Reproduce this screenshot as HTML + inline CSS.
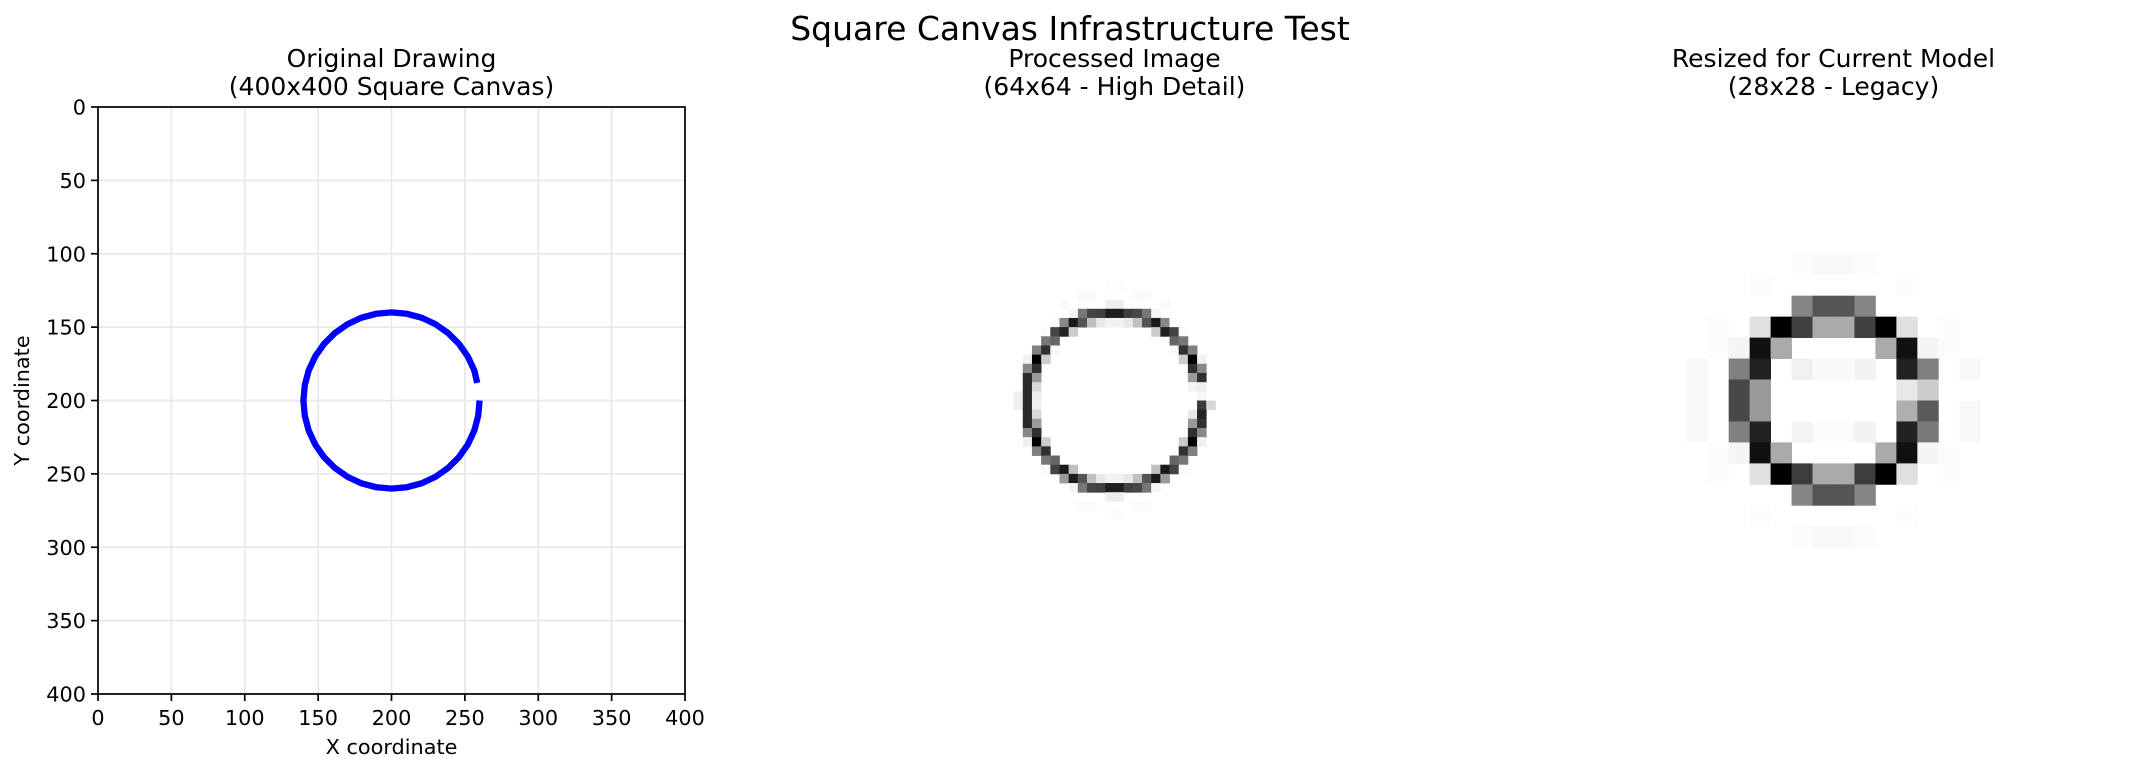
<!DOCTYPE html>
<html><head><meta charset="utf-8">
<style>
html,body{margin:0;padding:0;background:#fff;}
svg{display:block;font-family:"DejaVu Sans","Liberation Sans",sans-serif;}
</style></head>
<body>
<svg id="fig" width="2142" height="772" viewBox="0 0 2142 772" xmlns="http://www.w3.org/2000/svg">
<rect x="0" y="0" width="2142" height="772" fill="#fff"/>
<text x="1070" y="40" font-size="33" text-anchor="middle" fill="#000">Square Canvas Infrastructure Test</text>
<g font-size="25" text-anchor="middle" fill="#000">
<text x="391.5" y="67">Original Drawing</text>
<text x="391.5" y="95">(400x400 Square Canvas)</text>
</g>
<g font-size="25" text-anchor="middle" fill="#000">
<text x="1114.5" y="67">Processed Image</text>
<text x="1114.5" y="95">(64x64 - High Detail)</text>
</g>
<g font-size="25" text-anchor="middle" fill="#000">
<text x="1833.5" y="67">Resized for Current Model</text>
<text x="1833.5" y="95">(28x28 - Legacy)</text>
</g>
<g id="p1"></g>
<g id="p2"></g>
<g id="p3"></g>
</svg>
<script>
// ---- data ----
const xTicks = [0,50,100,150,200,250,300,350,400];
const yTicks = [0,50,100,150,200,250,300,350,400];
const strokeX = [260,259.1,256.4,252,246,238.6,230,220.5,210.4,200,189.6,179.5,170,161.4,154,148,143.6,140.9,140,140.9,143.6,148,154,161.4,170,179.5,189.6,200,210.4,220.5,230,238.6,246,252,256.4,258.4];
const strokeY = [200,210.4,220.5,230,238.6,246,252,256.4,259.1,260,259.1,256.4,252,246,238.6,230,220.5,210.4,200,189.6,179.5,170,161.4,154,148,143.6,140.9,140,140.9,143.6,148,154,161.4,170,179.5,188];
// 64x64 processed image non-white cells: [row, col, gray]
const img64 = [
[19,31,252],[19,32,252],[20,28,250],[20,29,250],[20,34,250],[20,35,250],
[21,26,250],[21,31,238],[21,32,238],[21,37,250],
[22,27,245],[22,28,119],[22,29,68],[22,30,64],[22,31,30],[22,32,30],[22,33,64],[22,34,72],[22,35,119],[22,36,245],
[23,25,252],[23,26,136],[23,27,26],[23,28,85],[23,29,192],[23,30,232],[23,31,242],[23,32,242],[23,33,232],[23,34,192],[23,35,85],[23,36,26],[23,37,136],[23,38,252],
[24,24,251],[24,25,68],[24,26,34],[24,27,204],[24,36,204],[24,37,34],[24,38,68],[24,39,251],
[25,24,119],[25,25,102],[25,38,102],[25,39,119],
[26,23,128],[26,24,48],[26,25,248],[26,38,248],[26,39,48],[26,40,128],
[27,22,240],[27,23,0],[27,24,204],[27,39,204],[27,40,0],[27,41,240],
[28,22,136],[28,23,48],[28,40,48],[28,41,136],
[29,22,42],[29,23,154],[29,40,154],[29,41,48],
[30,22,42],[30,23,216],[30,40,245],[30,41,238],
[31,21,238],[31,22,42],[31,23,238],[31,41,248],
[32,21,238],[32,22,42],[32,23,240],[32,41,58],[32,42,216],
[33,22,42],[33,23,216],[33,40,232],[33,41,34],
[34,22,42],[34,23,154],[34,40,154],[34,41,48],
[35,22,136],[35,23,48],[35,40,48],[35,41,136],
[36,22,240],[36,23,0],[36,24,204],[36,39,204],[36,40,0],[36,41,240],
[37,23,128],[37,24,48],[37,39,48],[37,40,128],
[38,24,119],[38,25,102],[38,38,102],[38,39,119],
[39,24,251],[39,25,68],[39,26,26],[39,27,192],[39,36,192],[39,37,26],[39,38,68],[39,39,251],
[40,26,154],[40,27,30],[40,28,85],[40,29,192],[40,30,232],[40,31,242],[40,32,242],[40,33,232],[40,34,192],[40,35,85],[40,36,26],[40,37,154],
[41,27,245],[41,28,119],[41,29,68],[41,30,64],[41,31,30],[41,32,30],[41,33,64],[41,34,72],[41,35,119],[41,36,245],
[42,31,238],[42,32,238],[43,28,250],[43,29,250],[43,34,250],[43,35,250],[44,31,252],[44,32,252]
];
// 28x28 resized image non-white cells: [row, col, gray]
const img28 = [
[7,12,252],[7,13,248],[7,14,248],[7,15,252],
[8,10,252],[8,17,252],
[9,12,133],[9,13,85],[9,14,85],[9,15,133],
[10,8,252],[10,10,224],[10,11,0],[10,12,64],[10,13,170],[10,14,170],[10,15,64],[10,16,0],[10,17,224],[10,19,252],
[11,8,252],[11,9,245],[11,10,16],[11,11,170],[11,16,170],[11,17,16],[11,18,245],[11,19,252],
[12,7,248],[12,9,128],[12,10,34],[12,12,240],[12,13,250],[12,14,250],[12,15,242],[12,17,34],[12,18,128],[12,20,248],
[13,7,248],[13,9,72],[13,10,154],[13,17,232],[13,18,204],
[14,7,248],[14,9,72],[14,10,154],[14,17,175],[14,18,90],[14,20,248],
[15,7,248],[15,9,128],[15,10,34],[15,12,243],[15,13,252],[15,14,252],[15,15,242],[15,17,34],[15,18,122],[15,20,248],
[16,8,252],[16,9,245],[16,10,16],[16,11,170],[16,16,170],[16,17,16],[16,18,245],[16,19,252],
[17,8,252],[17,10,224],[17,11,0],[17,12,60],[17,13,170],[17,14,170],[17,15,60],[17,16,0],[17,17,224],[17,19,252],
[18,12,133],[18,13,85],[18,14,85],[18,15,133],
[19,10,252],[19,17,252],
[20,12,252],[20,13,248],[20,14,248],[20,15,252]
];
// ---- drawing ----
const NS = "http://www.w3.org/2000/svg";
function mk(tag, attrs, parent){const e=document.createElementNS(NS,tag);for(const k in attrs)e.setAttribute(k,attrs[k]);parent.appendChild(e);return e;}
const AX = {l:98, t:107, w:587, h:587};
const sx = v => AX.l + v/400*AX.w;
const sy = v => AX.t + v/400*AX.h;
const p1 = document.getElementById('p1');
mk('rect',{x:AX.l,y:AX.t,width:AX.w,height:AX.h,fill:'#fff'},p1);
xTicks.forEach(v=>{
  const g = mk('line',{x1:sx(v),x2:sx(v),y1:AX.t,y2:AX.t+AX.h,stroke:'#e8e8e8','stroke-width':1.7},p1);
  
  
});
yTicks.forEach(v=>{
  const g = mk('line',{x1:AX.l,x2:AX.l+AX.w,y1:sy(v),y2:sy(v),stroke:'#e8e8e8','stroke-width':1.7},p1);
  
  
});
const pts = strokeX.map((x,i)=>sx(x).toFixed(1)+','+sy(strokeY[i]).toFixed(1)).join(' ');
const line = mk('polyline',{points:pts,fill:'none',stroke:'#0000ff','stroke-width':6.3,'stroke-linejoin':'miter','stroke-linecap':'butt'},p1);


const frame = mk('rect',{x:AX.l,y:AX.t,width:AX.w,height:AX.h,fill:'none',stroke:'#000','stroke-width':1.7},p1);


xTicks.forEach(v=>{
  mk('line',{x1:sx(v),x2:sx(v),y1:AX.t+AX.h,y2:AX.t+AX.h+7,stroke:'#000','stroke-width':1.7},p1);
  const t = mk('text',{x:sx(v),y:AX.t+AX.h+31,'font-size':20.8,'text-anchor':'middle',fill:'#000'},p1);
  t.textContent = v;
  
  
});
yTicks.forEach(v=>{
  mk('line',{x1:AX.l-7,x2:AX.l,y1:sy(v),y2:sy(v),stroke:'#000','stroke-width':1.7},p1);
  const t = mk('text',{x:AX.l-12,y:sy(v)+7.5,'font-size':20.8,'text-anchor':'end',fill:'#000'},p1);
  t.textContent = v;
  
  
});
const xl = mk('text',{x:AX.l+AX.w/2,y:754,'font-size':20.8,'text-anchor':'middle',fill:'#000'},p1);
xl.textContent = 'X coordinate';


const yl = mk('text',{x:0,y:0,'font-size':20.8,'text-anchor':'middle',fill:'#000',transform:'translate(29,'+(AX.t+AX.h/2)+') rotate(-90)'},p1);
yl.textContent = 'Y coordinate';



function drawImage(parent, data, n, left){
  const cell = 587/n;
  data.forEach(d=>{
    const g = d[2];
    const r = mk('rect',{x:(left+d[1]*cell).toFixed(2),y:(AX.t+d[0]*cell).toFixed(2),width:(cell+0.4).toFixed(2),height:(cell+0.4).toFixed(2),fill:'rgb('+g+','+g+','+g+')'},parent);
    
    
  });
}
drawImage(document.getElementById('p2'), img64, 64, 821);
drawImage(document.getElementById('p3'), img28, 28, 1540);
</script>
</body></html>
